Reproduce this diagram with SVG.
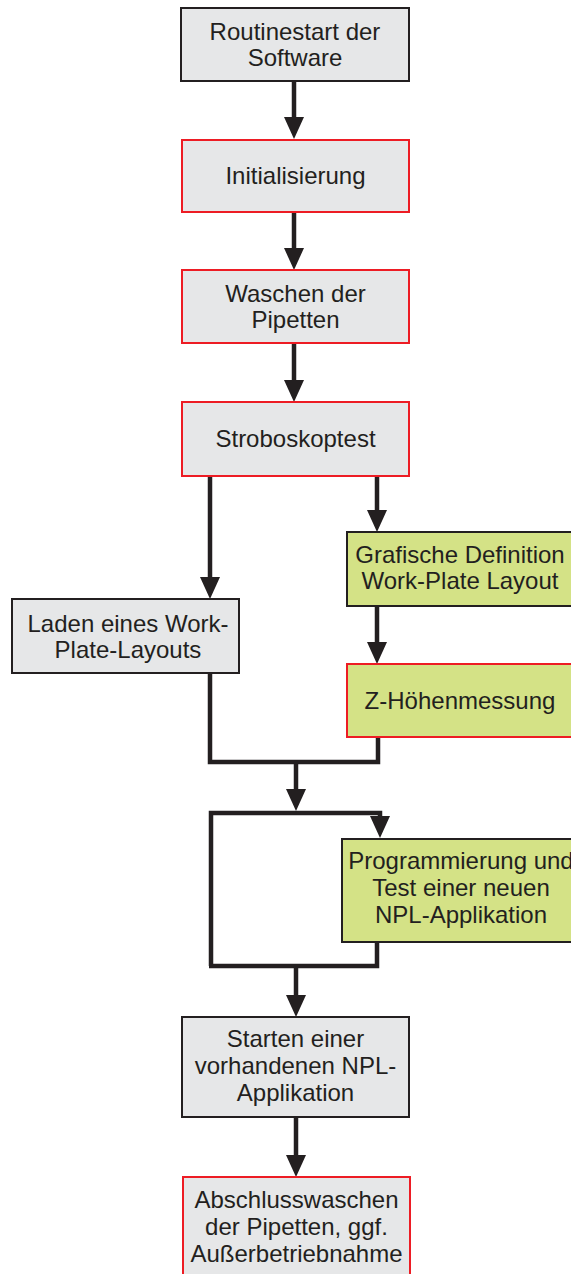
<svg xmlns="http://www.w3.org/2000/svg" width="571" height="1274" viewBox="0 0 571 1274">
<style>
.g{fill:#e6e7e8;stroke:#231f20;stroke-width:2}
.r{fill:#e6e7e8;stroke:#ed1c24;stroke-width:2}
.gr{fill:#d4e286;stroke:#231f20;stroke-width:2}
.gr-r{fill:#d4e286;stroke:#ed1c24;stroke-width:2}
text{font-family:"Liberation Sans",Arial,sans-serif;font-size:24px;fill:#231f20;text-anchor:middle}
.c{fill:none;stroke:#231f20;stroke-width:4.5}
</style>
<defs>
<marker id="ah" viewBox="0 0 22 20" refX="12" refY="10" markerWidth="22" markerHeight="20" markerUnits="userSpaceOnUse" orient="auto">
<path d="M0,0 L22,10 L0,20 z" fill="#231f20"/>
</marker>
</defs>
<rect width="571" height="1274" fill="#ffffff"/>
<g id="connectors">
<path class="c" d="M294,81 V129" marker-end="url(#ah)"/>
<path class="c" d="M294,212 V260" marker-end="url(#ah)"/>
<path class="c" d="M294,343 V392" marker-end="url(#ah)"/>
<path class="c" d="M210,476 V589" marker-end="url(#ah)"/>
<path class="c" d="M377,476 V522" marker-end="url(#ah)"/>
<path class="c" d="M377,606 V654" marker-end="url(#ah)"/>
<path class="c" d="M210,673 V762 H378 V737"/>
<path class="c" d="M296,762 V801" marker-end="url(#ah)"/>
<path class="c" d="M211,966 V813 H380 V828" marker-end="url(#ah)"/>
<path class="c" d="M377,942 V966 H209"/>
<path class="c" d="M296,966 V1007" marker-end="url(#ah)"/>
<path class="c" d="M296,1117 V1167" marker-end="url(#ah)"/>
</g>
<g id="n1"><rect class="g" x="181" y="8" width="228" height="73"/><text x="295" y="40">Routinestart der</text><text x="295" y="66">Software</text></g>
<g id="n2"><rect class="r" x="182" y="140" width="227" height="72"/><text x="295.5" y="184">Initialisierung</text></g>
<g id="n3"><rect class="r" x="182" y="270" width="227" height="73"/><text x="295.5" y="302">Waschen der</text><text x="295.5" y="328">Pipetten</text></g>
<g id="n4"><rect class="r" x="182" y="402" width="227" height="74"/><text x="295.5" y="447">Stroboskoptest</text></g>
<g id="n5"><rect class="gr" x="347" y="532" width="227" height="74"/><text x="460" y="563">Grafische Definition</text><text x="460" y="589">Work-Plate Layout</text></g>
<g id="n6"><rect class="g" x="12" y="599" width="227" height="74"/><text x="128" y="632">Laden eines Work-</text><text x="128" y="658">Plate-Layouts</text></g>
<g id="n7"><rect class="gr-r" x="347" y="664" width="227" height="73"/><text x="460" y="709">Z-Höhenmessung</text></g>
<g id="n8"><rect class="gr" x="342" y="839" width="238" height="103"/><text x="461" y="869">Programmierung und</text><text x="461" y="896">Test einer neuen</text><text x="461" y="923">NPL-Applikation</text></g>
<g id="n9"><rect class="g" x="182" y="1017" width="227" height="100"/><text x="295.5" y="1047">Starten einer</text><text x="295.5" y="1074">vorhandenen NPL-</text><text x="295.5" y="1101">Applikation</text></g>
<g id="n10"><rect class="r" x="183" y="1177" width="227" height="110"/><text x="296.5" y="1208">Abschlusswaschen</text><text x="296.5" y="1235">der Pipetten, ggf.</text><text x="296.5" y="1262">Außerbetriebnahme</text></g>
</svg>
